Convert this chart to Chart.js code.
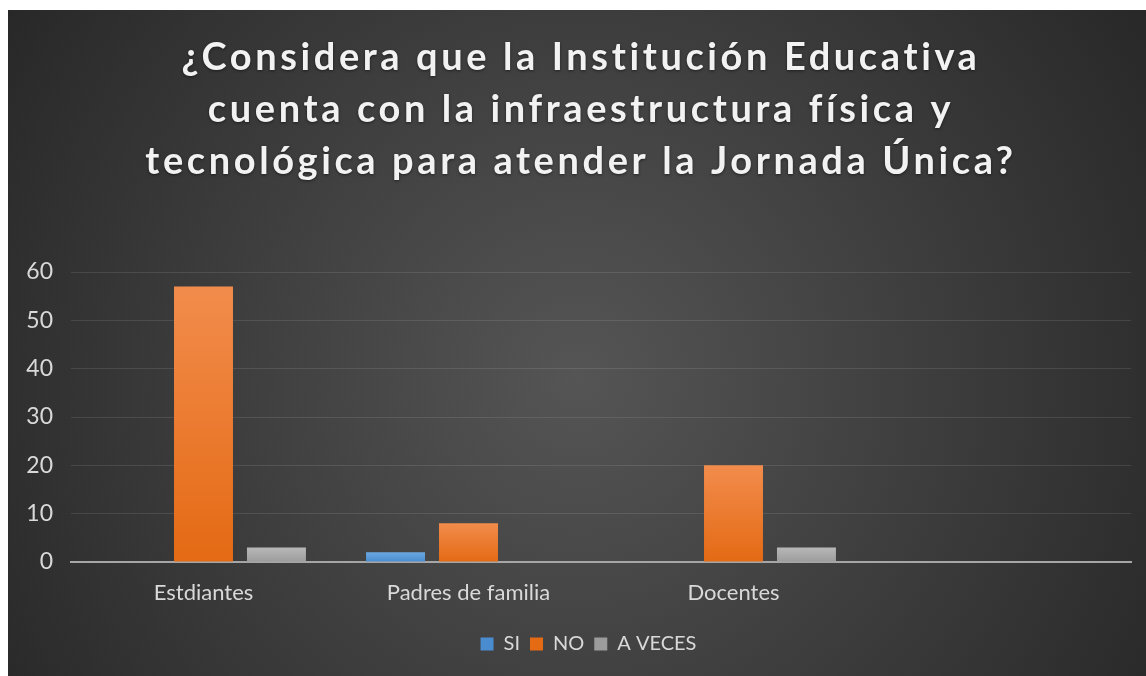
<!DOCTYPE html>
<html>
<head>
<meta charset="utf-8">
<script src="https://cdn.jsdelivr.net/npm/chart.js@4"></script>
<style>
  html, body { margin: 0; padding: 0; background: #fff; }
  #wrap { position: absolute; left: 8px; top: 10px; width: 1138px; height: 666px; }
</style>
</head>
<body>
<div id="wrap"><canvas id="grafico"></canvas></div>
<script>
var categorias = ['Estdiantes', 'Padres de familia', 'Docentes', ''];
var valoresSi = [0, 2, 0, null];
var valoresNo = [57, 8, 20, null];
var valoresAVeces = [3, 0, 3, null];
var tituloLineas = [
  '¿Considera que la Institución Educativa',
  'cuenta con la infraestructura física y',
  'tecnológica para atender la Jornada Única?'
];

// gradient per bar, from its top down to the zero line
function barGradient(top, bottom) {
  return function (context) {
    var chart = context.chart;
    var y = chart.scales.y;
    if (!y || context.raw == null) return bottom;
    var y0 = y.getPixelForValue(context.raw);
    var y1 = y.getPixelForValue(0);
    if (!isFinite(y0) || !isFinite(y1) || y0 === y1) return bottom;
    var g = chart.ctx.createLinearGradient(0, y0, 0, y1);
    g.addColorStop(0, top);
    g.addColorStop(1, bottom);
    return g;
  };
}

var fondo = {
  id: 'fondo',
  beforeDraw: function (chart) {
    var ctx = chart.ctx;
    var w = chart.width, h = chart.height;
    ctx.save();
    var g = ctx.createRadialGradient(w * 0.5, h * 0.55, 0, w * 0.5, h * 0.55, w * 0.62);
    g.addColorStop(0, '#555555');
    g.addColorStop(1, '#262626');
    ctx.fillStyle = g;
    ctx.fillRect(0, 0, w, h);
    ctx.restore();
  }
};

var titulo = {
  id: 'titulo',
  afterDraw: function (chart) {
    var ctx = chart.ctx;
    ctx.save();
    ctx.font = 'bold 38px Lato';
    ctx.letterSpacing = '3.6px';
    ctx.fillStyle = '#f2f2f2';
    ctx.textAlign = 'center';
    ctx.textBaseline = 'middle';
    ctx.shadowColor = 'rgba(0,0,0,0.5)';
    ctx.shadowBlur = 3;
    ctx.shadowOffsetY = 1;
    for (var i = 0; i < tituloLineas.length; i++) {
      ctx.fillText(tituloLineas[i], chart.width / 2 + 4, 48 + i * 52);
    }
    ctx.restore();
  }
};

// legend sits a bit right of the canvas centre in the original
var legendShift = {
  id: 'legendShift',
  afterLayout: function (chart) {
    if (chart.legend) {
      chart.legend.left += 19;
      chart.legend.right += 19;
    }
  }
};

var ctxGrafico = document.getElementById('grafico').getContext('2d');
var grafico = new Chart(ctxGrafico, {
  type: 'bar',
  data: {
    labels: categorias,
    datasets: [{
      label: 'SI',
      data: valoresSi,
      backgroundColor: barGradient('#6aa8e0', '#4a8cd0'),
      borderWidth: 0
    }, {
      label: 'NO',
      data: valoresNo,
      backgroundColor: barGradient('#f28c4c', '#e46a14'),
      borderWidth: 0
    }, {
      label: 'A VECES',
      data: valoresAVeces,
      backgroundColor: barGradient('#b8b8b8', '#9c9c9c'),
      borderWidth: 0
    }]
  },
  options: {
    responsive: true,
    maintainAspectRatio: false,
    animation: false,
    categoryPercentage: 0.826,
    barPercentage: 0.808,
    layout: { padding: { top: 262, right: 15, bottom: 12, left: 0 } },
    plugins: {
      title: { display: false },
      tooltip: { enabled: false },
      legend: {
        position: 'bottom',
        labels: {
          color: '#d9d9d9',
          font: { family: 'Lato', size: 20 },
          boxWidth: 13,
          boxHeight: 13,
          padding: 10
        }
      }
    },
    scales: {
      x: {
        grid: { display: false, drawTicks: false },
        border: { display: true, color: '#a6a6a6', width: 2 },
        ticks: {
          color: '#d9d9d9',
          font: { family: 'Lato', size: 22 },
          padding: 18,
          maxRotation: 0
        },
        afterFit: function (scale) { scale.height = 62; }
      },
      y: {
        min: 0,
        max: 60,
        ticks: {
          stepSize: 10,
          color: '#d9d9d9',
          font: { family: 'Lato', size: 23 },
          padding: 18
        },
        grid: { color: 'rgba(255,255,255,0.1)', lineWidth: 1, drawTicks: false },
        border: { display: false },
        afterFit: function (scale) { scale.width = 63; }
      }
    }
  },
  plugins: [fondo, titulo, legendShift]
});
</script>
</body>
</html>
